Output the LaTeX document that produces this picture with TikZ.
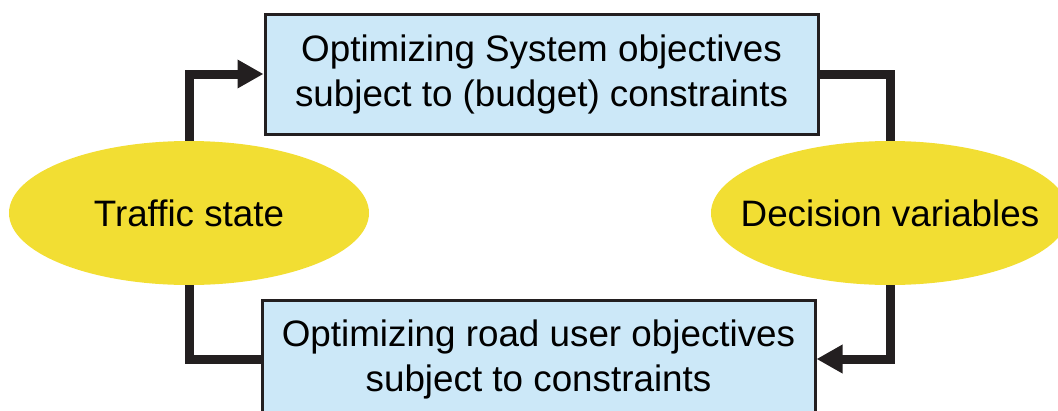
\documentclass[tikz,border=0pt]{standalone}
\usepackage{fontspec}
\setmainfont{Liberation Sans}
\usetikzlibrary{arrows.meta,shapes.geometric}
\definecolor{boxfill}{HTML}{CCE8F8}
\definecolor{ellfill}{HTML}{F2DE33}
\definecolor{darkline}{HTML}{231F20}
\tikzset{
  goalbox/.style={draw=darkline, line width=3pt, fill=boxfill, inner sep=0pt,
    align=center, font=\fontsize{36.8}{45}\selectfont},
  stateell/.style={ellipse, fill=ellfill, inner sep=0pt,
    font=\fontsize{36.8}{40}\selectfont},
  conn/.style={draw=darkline, line width=9pt, line join=miter},
  tip/.style={-{Triangle[length=26pt,width=27pt]}}
}
\begin{document}
\begin{tikzpicture}[x=1pt,y=-1pt]
\useasboundingbox (0,0) rectangle (1058,410);
\clip (0,0) rectangle (1058,410);
\node[goalbox, minimum width=553pt, minimum height=120pt] (top) at (541.5,74)
  {Optimizing System objectives\\subject to (budget) constraints};
\node[goalbox, minimum width=553pt, minimum height=118pt] (bot) at (538.5,359)
  {Optimizing road user objectives\\subject to constraints};
\node[stateell, minimum width=360pt, minimum height=144pt] (ts) at (189,213) {\makebox[0pt]{Traffic state}};
\node[stateell, minimum width=358pt, minimum height=144pt] (dv) at (890,213) {\makebox[0pt]{Decision variables}};
\draw[conn,tip] (ts.north) |- (top.west);
\draw[conn] (top.east) -| (dv.north);
\draw[conn,tip] (dv.south) |- (bot.east);
\draw[conn] (bot.west) -| (ts.south);
\end{tikzpicture}
\end{document}
